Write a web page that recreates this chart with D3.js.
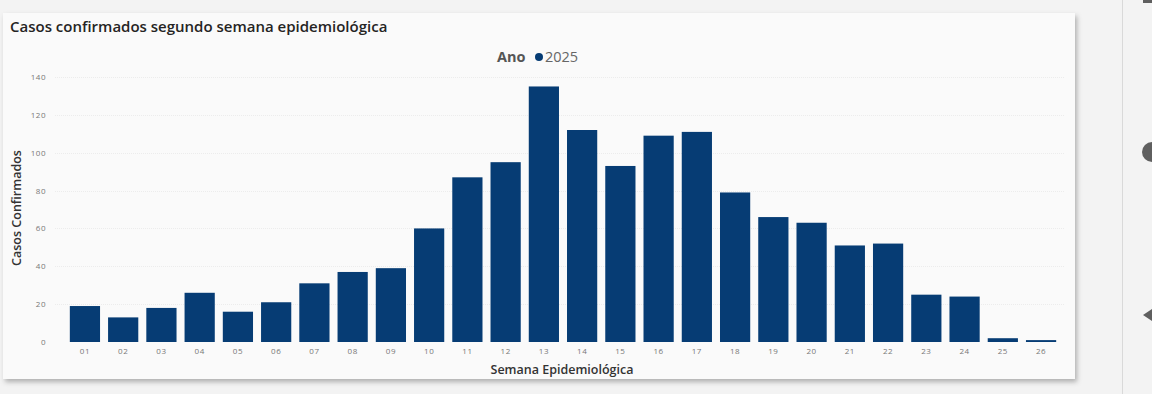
<!DOCTYPE html>
<html>
<head>
<meta charset="utf-8">
<script src="https://cdn.jsdelivr.net/npm/d3@7"></script>
<style>
  body { margin: 0; background: #f3f3f3; font-family: "Open Sans", "Noto Sans", sans-serif; }
  svg { display: block; }
</style>
</head>
<body>
<script>
// data
const semanas = ["01","02","03","04","05","06","07","08","09","10","11","12","13",
                 "14","15","16","17","18","19","20","21","22","23","24","25","26"];
const casos = [19, 13, 18, 26, 16, 21, 31, 37, 39, 60, 87, 95, 135,
               112, 93, 109, 111, 79, 66, 63, 51, 52, 25, 24, 2, 1];
const yTicks = [0, 20, 40, 60, 80, 100, 120, 140];
const legendYear = "2025";

const W = 1152, H = 394;
const svg = d3.select("body").append("svg").attr("width", W).attr("height", H);

// shadow filter for the card
const defs = svg.append("defs");
const f = defs.append("filter").attr("id", "sh").attr("x", "-5%").attr("y", "-5%").attr("width", "110%").attr("height", "115%");
f.append("feDropShadow").attr("dx", 2).attr("dy", 3).attr("stdDeviation", 2.5).attr("flood-color", "#000").attr("flood-opacity", 0.28);

// card
svg.append("rect").attr("x", 3).attr("y", 13).attr("width", 1072).attr("height", 366)
  .attr("fill", "#fafafa").attr("filter", "url(#sh)");

// right side panel bits
svg.append("line").attr("x1", 1122.5).attr("x2", 1122.5).attr("y1", 0).attr("y2", H)
  .attr("stroke", "#d9d9d9");
svg.append("circle").attr("cx", 1152).attr("cy", 152).attr("r", 10).attr("fill", "#5f5f5f");
svg.append("path").attr("d", "M1143,315 L1152,309 L1152,321 Z").attr("fill", "#5f5f5f");
svg.append("rect").attr("x", 1143).attr("y", 0).attr("width", 9).attr("height", 3).attr("fill", "#5f5f5f");

// title
svg.append("text").attr("x", 10).attr("y", 32)
  .attr("font-size", 15).attr("font-weight", 600).attr("fill", "#252423")
  .text("Casos confirmados segundo semana epidemiológica");

// legend
const lg = svg.append("g").attr("transform", "translate(497,62)");
lg.append("text").attr("x", 0).attr("y", 0).attr("font-size", 14.5).attr("font-weight", 700)
  .attr("fill", "#555").text("Ano");
lg.append("circle").attr("cx", 42).attr("cy", -5).attr("r", 4).attr("fill", "#063c74");
lg.append("text").attr("x", 48).attr("y", 0).attr("font-size", 14.5).attr("fill", "#666").text(legendYear);

// scales
const x = d3.scaleBand().domain(semanas).range([66, 1060]).paddingInner(0.21).paddingOuter(0.1);
const y = d3.scaleLinear().domain([0, 140]).range([342, 77]);

// grid
svg.append("g").selectAll("line").data(yTicks.slice(1)).join("line")
  .attr("x1", 55).attr("x2", 1065)
  .attr("y1", d => Math.round(y(d)) + 0.5).attr("y2", d => Math.round(y(d)) + 0.5)
  .attr("stroke", "#ececec").attr("stroke-dasharray", "1,1");

// y axis
const yAxis = svg.append("g").attr("transform", "translate(46,0)")
  .call(d3.axisLeft(y).tickValues(yTicks).tickSize(0).tickPadding(0));
yAxis.select(".domain").remove();
yAxis.selectAll("text").attr("font-size", 8).attr("fill", "#777")
  .attr("font-family", "'Open Sans', sans-serif").attr("letter-spacing", 0.5);

// x axis
const xAxis = svg.append("g").attr("transform", "translate(0,346)")
  .call(d3.axisBottom(x).tickSize(0).tickPadding(2));
xAxis.select(".domain").remove();
xAxis.selectAll("text").attr("font-size", 8).attr("fill", "#777")
  .attr("font-family", "'Open Sans', sans-serif").attr("letter-spacing", 0.6);

// bars
svg.append("g").selectAll("rect").data(semanas).join("rect")
  .attr("x", d => x(d))
  .attr("width", x.bandwidth())
  .attr("y", (d, i) => y(casos[i]))
  .attr("height", (d, i) => y(0) - y(casos[i]))
  .attr("fill", "#063c74");

// axis titles
svg.append("text").attr("x", 562).attr("y", 374).attr("text-anchor", "middle")
  .attr("font-size", 12.5).attr("font-weight", 600).attr("fill", "#333")
  .text("Semana Epidemiológica");
svg.append("text").attr("transform", "translate(21,208) rotate(-90)").attr("text-anchor", "middle")
  .attr("font-size", 12.5).attr("font-weight", 600).attr("fill", "#333")
  .text("Casos Confirmados");
</script>
</body>
</html>
